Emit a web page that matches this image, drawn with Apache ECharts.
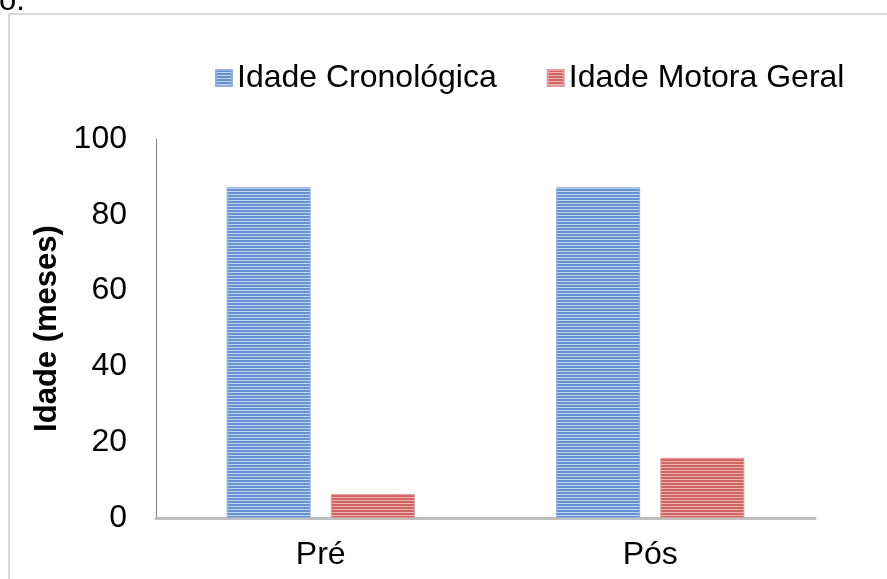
<!DOCTYPE html>
<html>
<head>
<meta charset="utf-8">
<script src="https://cdn.jsdelivr.net/npm/echarts@6/dist/echarts.min.js"></script>
<style>
  html, body { margin: 0; padding: 0; background: #fff; }
  #chart { width: 887px; height: 579px; }
</style>
</head>
<body>
<div id="chart"></div>
<script>
const categories = ["Pré", "Pós"];
const idadeCronologica = [87.3, 87.3];
const idadeMotoraGeral = [6.3, 15.9];
const seriesNames = ["Idade Cronológica", "Idade Motora Geral"];

const font = "'Liberation Sans', Arial, sans-serif";

// striped fill like the Excel texture
function stripes(dark, light) {
  const c = document.createElement("canvas");
  c.width = 4;
  c.height = 3;
  const ctx = c.getContext("2d");
  ctx.fillStyle = dark;
  ctx.fillRect(0, 0, 4, 3);
  ctx.fillStyle = light;
  ctx.fillRect(0, 2, 4, 1);
  return { image: c, repeat: "repeat" };
}

const bluePattern = stripes("#6591d2", "#c3d5ef");
const redPattern = stripes("#cf6563", "#eeb3b2");

const chart = echarts.init(document.getElementById("chart"));

const option = {
  backgroundColor: "#fff",
  animation: false,
  textStyle: { fontFamily: font },
  graphic: [
    {
      type: "rect",
      shape: { x: 9, y: 14, width: 900, height: 600 },
      style: { fill: "none", stroke: "#d9d9d9", lineWidth: 2 }
    },
    {
      type: "text",
      x: -1,
      y: -14,
      style: { text: "o.", font: "31px " + font, fill: "#000" }
    }
  ],
  legend: {
    left: 210,
    top: 57,
    icon: "rect",
    itemWidth: 16,
    itemHeight: 16,
    itemGap: 50,
    data: seriesNames,
    textStyle: { fontSize: 32, color: "#000", fontFamily: font }
  },
  grid: { left: 156, right: 72, top: 139, bottom: 61 },
  xAxis: {
    type: "category",
    data: categories,
    axisLine: { lineStyle: { color: "#bfbfbf", width: 3 } },
    axisTick: { show: false },
    axisLabel: { fontSize: 32, color: "#000", margin: 21 }
  },
  yAxis: {
    type: "value",
    min: 0,
    max: 100,
    interval: 20,
    name: "Idade (meses)",
    nameLocation: "middle",
    nameGap: 93,
    nameTextStyle: { fontSize: 31, fontWeight: "bold", color: "#000" },
    axisLine: { show: true, lineStyle: { color: "#868686", width: 1 } },
    axisTick: { show: false },
    splitLine: { show: false },
    axisLabel: { fontSize: 32, color: "#000", margin: 29 }
  },
  series: [
    {
      name: seriesNames[0],
      type: "bar",
      data: idadeCronologica,
      barWidth: 84,
      barGap: "24%",
      itemStyle: { color: bluePattern, borderColor: "#8fb0e0", borderWidth: 1 }
    },
    {
      name: seriesNames[1],
      type: "bar",
      data: idadeMotoraGeral,
      barWidth: 84,
      itemStyle: { color: redPattern, borderColor: "#e39896", borderWidth: 1 }
    }
  ]
};

chart.setOption(option);
</script>
</body>
</html>
